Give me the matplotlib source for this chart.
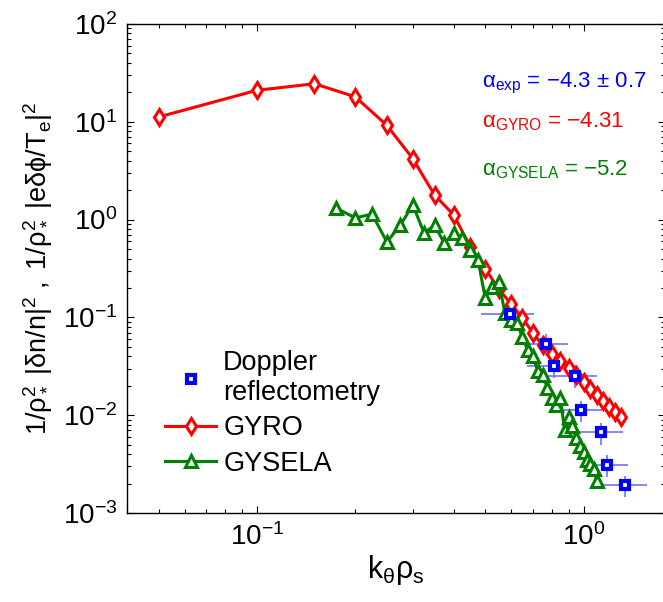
import numpy as np
import matplotlib
matplotlib.use("Agg")
import matplotlib.pyplot as plt
from matplotlib.ticker import LogLocator, NullFormatter

plt.rcParams['font.family'] = ['Liberation Sans', 'DejaVu Sans']
plt.rcParams['mathtext.fontset'] = 'custom'
plt.rcParams['mathtext.rm'] = 'Liberation Sans'
plt.rcParams['mathtext.it'] = 'Liberation Sans'
plt.rcParams['mathtext.bf'] = 'Liberation Sans:bold'
plt.rcParams['mathtext.sf'] = 'Liberation Sans'

# ---- data ----
gyro_k = [0.05, 0.10, 0.15, 0.20, 0.25, 0.30, 0.35, 0.40, 0.45, 0.50, 0.55, 0.60, 0.65,
          0.70, 0.75, 0.80, 0.85, 0.90, 0.95, 1.00, 1.05, 1.10, 1.15, 1.20, 1.25, 1.30]
gyro_s = [11.2, 21.0, 24.5, 18.0, 9.2, 4.2, 1.78, 1.12, 0.53, 0.315, 0.195, 0.137, 0.099,
          0.069, 0.052, 0.042, 0.0358, 0.0305, 0.0259, 0.0219, 0.0186, 0.0161, 0.0140,
          0.0121, 0.0108, 0.0096]

gysela_k = [0.175, 0.200, 0.225, 0.250, 0.275, 0.300, 0.325, 0.350, 0.375, 0.400, 0.425,
            0.450, 0.475, 0.500, 0.525, 0.550, 0.575, 0.600, 0.625, 0.650, 0.675, 0.700,
            0.725, 0.750, 0.775, 0.800, 0.825, 0.850, 0.875, 0.900, 0.925, 0.950, 0.975,
            1.000, 1.025, 1.050, 1.075, 1.100]
gysela_s = [1.31, 1.04, 1.14, 0.59, 0.88, 1.41, 0.73, 0.88, 0.57, 0.73, 0.65,
            0.49, 0.39, 0.158, 0.205, 0.23, 0.11, 0.095, 0.088, 0.063, 0.046, 0.040,
            0.028, 0.026, 0.019, 0.0150, 0.0128, 0.0150, 0.0070, 0.0095, 0.0078, 0.0058, 0.0048,
            0.0042, 0.0035, 0.0032, 0.0028, 0.0021]

dop_k = [0.594, 0.765, 0.81, 0.939, 0.979, 1.135, 1.18, 1.34]
dop_s = [0.108, 0.0535, 0.0319, 0.0252, 0.0113, 0.0067, 0.0031, 0.00193]
dop_kerr = [0.11, 0.13, 0.14, 0.16, 0.16, 0.19, 0.19, 0.23]
dop_serr = [0.027, 0.0134, 0.0080, 0.0063, 0.0028, 0.0017, 0.00078, 0.00048]

W, H = 663, 602
fig = plt.figure(figsize=(W/100, H/100), dpi=100)
ax = fig.add_axes([127/W, 1-513/H, (664.5-127)/W, (513-24)/H])

blue = (0, 0, 1)
red = (1, 0, 0)
green = (0, 0.5, 0)

ax.errorbar(dop_k, dop_s, xerr=dop_kerr, yerr=dop_serr, fmt='none',
            ecolor=(0.4, 0.4, 1.0), elinewidth=1.1, capsize=0, zorder=2)
ax.plot(gyro_k, gyro_s, color=red, lw=2.2, marker='d', ms=8, mfc='white', mec=red,
        mew=2.2, label='GYRO', zorder=3)
ax.plot(gysela_k, gysela_s, color=green, lw=2.2, marker='^', ms=8, mfc='white', mec=green,
        mew=2.2, label='GYSELA', zorder=3)
ax.plot(dop_k, dop_s, ls='none', marker='s', ms=5.5, mfc='white', mec=blue, mew=3,
        label='Doppler\nreflectometry', zorder=4)

ax.set_xscale('log')
ax.set_yscale('log')
ax.set_xlim(0.04, 1.77)
ax.set_ylim(1e-3, 1e2)

ax.yaxis.set_major_locator(LogLocator(base=10, numticks=10))
ax.yaxis.set_minor_locator(LogLocator(base=10, subs=np.arange(2, 10), numticks=20))
ax.yaxis.set_minor_formatter(NullFormatter())
ax.xaxis.set_minor_formatter(NullFormatter())
ax.tick_params(which='both', direction='in', top=True, right=True, labelsize=20, width=0.8)
ax.tick_params(which='major', length=5, pad=7)
ax.tick_params(which='minor', length=3)
for s in ax.spines.values():
    s.set_linewidth(1.0)

ax.set_xlabel(r'$\mathregular{k_{\theta}\rho_s}$', fontsize=22, labelpad=2)
fig.text(38/W, 1-268/H,
         r'$\mathregular{1/\rho_*^2\ |\delta n/n|^2\ ,\ 1/\rho_*^2\ |e\delta\phi/T_e|^2}$',
         rotation=90, ha='center', va='center', fontsize=19.5)

h, l = ax.get_legend_handles_labels()
order = [2, 0, 1]
ax.legend([h[i] for i in order], [l[i] for i in order], loc='upper left',
          bbox_to_anchor=(165/W, 1-350/H), bbox_transform=fig.transFigure,
          frameon=False, fontsize=19.5, borderpad=0, borderaxespad=0,
          handlelength=1.9, handletextpad=0.25, labelspacing=0.35)

fig.text(482/W, 1-87/H, r'$\mathregular{\alpha_{exp}}$ = −4.3 ± 0.7', color=blue,
         fontsize=16, ha='left', va='baseline')
fig.text(482/W, 1-127/H, r'$\mathregular{\alpha_{GYRO}}$ = −4.31', color=red,
         fontsize=16, ha='left', va='baseline')
fig.text(482/W, 1-175/H, r'$\mathregular{\alpha_{GYSELA}}$ = −5.2', color=green,
         fontsize=16, ha='left', va='baseline')

fig.savefig('out.png', dpi=100)
